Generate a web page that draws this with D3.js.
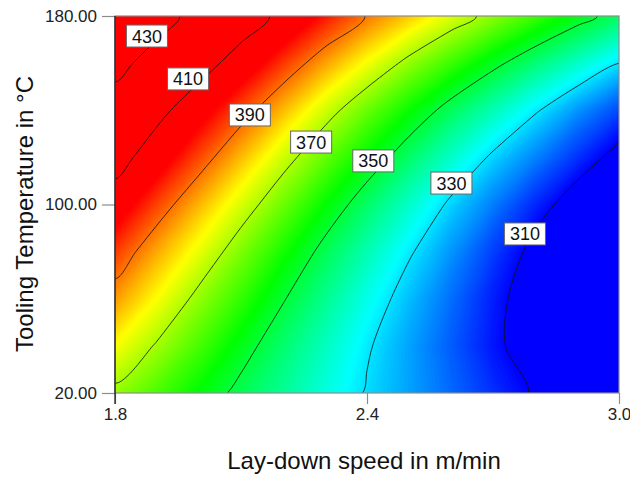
<!DOCTYPE html>
<html><head><meta charset="utf-8">
<script src="https://cdn.jsdelivr.net/npm/d3@7"></script>
<style>
body{margin:0;background:#fff;}
svg{display:block;font-family:Arial,"Liberation Sans",sans-serif;}
</style>
</head><body>
<svg id="chart" width="630" height="477"></svg>
<script>
// ---- data ----
const speeds = [1.8, 1.9, 2.0, 2.1, 2.2, 2.3, 2.4, 2.5, 2.6, 2.7, 2.8, 2.9, 3.0];
const temps = [20, 40, 60, 80, 100, 120, 140, 160, 180];
// response surface, one row per tooling temperature (20 → 180 °C), one column per speed
const resp20  = [368.1, 361.3, 354.5, 347.9, 341.7, 335.5, 329.4, 324.3, 319.2, 314.1, 309.3, 305.4, 301.5];
const resp40  = [377.2, 369.2, 361.1, 353.0, 345.5, 338.2, 330.9, 324.4, 318.1, 311.8, 305.9, 300.4, 295.2];
const resp60  = [386.3, 377.1, 367.9, 359.3, 350.6, 342.5, 334.4, 326.8, 319.7, 312.5, 305.7, 299.4, 293.4];
const resp80  = [395.0, 385.0, 375.5, 366.0, 356.8, 347.8, 339.4, 331.0, 323.2, 315.5, 307.9, 300.9, 294.2];
const resp100 = [404.6, 394.1, 384.0, 374.1, 364.5, 355.1, 346.0, 337.3, 328.7, 321.1, 313.4, 306.1, 299.3];
const resp120 = [414.5, 404.1, 393.7, 383.4, 373.2, 363.8, 354.7, 345.9, 337.2, 328.8, 321.6, 314.3, 307.2];
const resp140 = [424.1, 413.3, 403.4, 393.5, 383.5, 373.4, 364.2, 355.6, 347.1, 339.1, 331.0, 323.3, 316.3];
const resp160 = [434.1, 424.5, 414.8, 405.1, 395.2, 385.7, 376.7, 367.9, 360.1, 352.2, 344.7, 337.4, 330.0];
const resp180 = [445.0, 435.2, 425.7, 416.3, 407.1, 398.3, 389.6, 382.1, 374.5, 367.2, 360.3, 353.3, 346.5];
const response = [resp20, resp40, resp60, resp80, resp100, resp120, resp140, resp160, resp180];

const contourLevels = [310, 330, 350, 370, 390, 410, 430];
const labelValues = ["430", "410", "390", "370", "350", "330", "310"];
const labelSpeed  = [1.876, 1.974, 2.121, 2.267, 2.415, 2.601, 2.776];
const labelTemp   = [171.5, 153.3, 138.0, 126.5, 118.5, 109.1, 87.5];

const xTicks = [1.8, 2.4, 3.0];
const xTickLabels = ["1.8", "2.4", "3.0"];
const yTicks = [20, 100, 180];
const yTickLabels = ["20.00", "100.00", "180.00"];
const xTitle = "Lay-down speed in m/min";
const yTitle = "Tooling Temperature in °C";

// ---- layout / style ----
const L = 115, R = 619, T = 16, B = 393;
const colorStops = [310, 332.5, 355, 377.5, 400];
const colorRange = ["#0000ff", "#00ffff", "#00ff00", "#ffff00", "#ff0000"];

const svg = d3.select("#chart");
const xScale = d3.scaleLinear().domain([speeds[0], speeds[speeds.length - 1]]).range([L, R]);
const yScale = d3.scaleLinear().domain([temps[0], temps[temps.length - 1]]).range([B, T]);
const color = d3.scaleLinear().domain(colorStops).range(colorRange).clamp(true);

const nx = speeds.length, ny = temps.length;
const values = response.flat();
const rowsArr = response;
const colsArr = speeds.map((_, i) => response.map(r => r[i]));
const gxToS = d3.scaleLinear().domain([0.5, nx - 0.5]).range([speeds[0], speeds[nx - 1]]);
const gyToT = d3.scaleLinear().domain([0.5, ny - 0.5]).range([temps[0], temps[ny - 1]]);
const toPx = p => [xScale(gxToS(p[0])), yScale(gyToT(p[1]))];
const proj = d3.geoTransform({
  point(x, y) { const q = toPx([x, y]); this.stream.point(q[0], q[1]); }
});
const path = d3.geoPath(proj);

// locate a marching-squares crossing along a grid edge (cubic instead of linear)
function cubicAt(v, k, t) {
  const n = v.length;
  const at = i => i < 0 ? 2 * v[0] - v[1] : i >= n ? 2 * v[n - 1] - v[n - 2] : v[i];
  const p0 = at(k - 1), p1 = at(k), p2 = at(k + 1), p3 = at(k + 2);
  const m1 = (p2 - p0) / 2, m2 = (p3 - p1) / 2, t2 = t * t, t3 = t2 * t;
  return (2 * t3 - 3 * t2 + 1) * p1 + (t3 - 2 * t2 + t) * m1 + (-2 * t3 + 3 * t2) * p2 + (t3 - t2) * m2;
}
function edgeRoot(v, k, level) {
  let a = 0, b = 1;
  const sa = cubicAt(v, k, 0) >= level;
  for (let it = 0; it < 28; it++) {
    const m = (a + b) / 2;
    if ((cubicAt(v, k, m) >= level) === sa) a = m; else b = m;
  }
  return (a + b) / 2;
}
function refineRing(ring, level) {
  return ring.map(([x, y]) => {
    let X = x, Y = y;
    if (Number.isInteger(x) && x > 0 && x < nx) {
      const j = Math.min(ny - 1, Math.max(0, Math.floor(y)));
      X = x - 0.5 + edgeRoot(rowsArr[j], x - 1, level);
    }
    if (Number.isInteger(y) && y > 0 && y < ny) {
      const i = Math.min(nx - 1, Math.max(0, Math.floor(x)));
      Y = y - 0.5 + edgeRoot(colsArr[i], y - 1, level);
    }
    return [X, Y];
  });
}
const contourGen = d3.contours().size([nx, ny]).smooth(false);
const refined = levels => contourGen.thresholds(levels)(values).map(mp => ({
  type: "MultiPolygon", value: mp.value,
  coordinates: mp.coordinates.map(poly => poly.map(ring => refineRing(ring, mp.value)))
}));

svg.append("defs").append("clipPath").attr("id", "plotclip")
  .append("rect").attr("x", L).attr("y", T).attr("width", R - L).attr("height", B - T);

const plot = svg.append("g").attr("clip-path", "url(#plotclip)");

// filled gradient via many thin contour bands
const step = 0.5;
const fills = refined(d3.range(286, 452, step));
plot.append("rect").attr("x", L).attr("y", T).attr("width", R - L).attr("height", B - T)
  .attr("fill", color(286));
plot.append("g").selectAll("path").data(fills).join("path")
  .attr("d", path)
  .attr("fill", d => color(d.value + step / 2))
  .attr("stroke", d => color(d.value + step / 2))
  .attr("stroke-width", 0.6);

// contour lines
const lines = refined(contourLevels);
const inside = p => p[0] > 0 && p[0] < nx && p[1] > 0 && p[1] < ny;
const smoothOpen = d3.line().curve(d3.curveCatmullRom.alpha(0.5));
const smoothClosed = d3.line().curve(d3.curveCatmullRomClosed.alpha(0.5));
const linePaths = [];
lines.forEach(mp => mp.coordinates.forEach(poly => poly.forEach(ring0 => {
  const ring = ring0.slice(0, -1);
  const n = ring.length;
  const b = ring.findIndex(p => !inside(p));
  if (b < 0) { linePaths.push(smoothClosed(ring.map(toPx))); return; }
  let run = null;
  for (let k = 0; k <= n; k++) {
    const p = ring[(b + k) % n];
    if (inside(p)) {
      if (!run) run = [ring[(b + k - 1 + n) % n]];
      run.push(p);
    } else if (run) {
      run.push(p);
      linePaths.push(smoothOpen(run.map(toPx)));
      run = null;
    }
  }
})));
plot.append("g").selectAll("path").data(linePaths).join("path")
  .attr("d", d => d)
  .attr("fill", "none")
  .attr("stroke", "#111")
  .attr("stroke-width", 0.8);

// contour labels
const lab = svg.append("g").selectAll("g").data(labelValues).join("g")
  .attr("transform", (d, i) => `translate(${xScale(labelSpeed[i])},${yScale(labelTemp[i])})`);
lab.append("rect");
lab.append("text").text(d => d)
  .attr("text-anchor", "middle").attr("dy", "0.36em")
  .attr("font-size", 18).attr("fill", "#111");
lab.each(function () {
  const g = d3.select(this);
  const w = g.select("text").node().getComputedTextLength();
  g.select("rect").attr("x", -w / 2 - 5.5).attr("y", -11).attr("width", w + 11).attr("height", 22)
    .attr("fill", "#fff").attr("stroke", "#666").attr("stroke-width", 1);
});

// frame
const gray = "#8c8c8c";
svg.append("rect").attr("x", L).attr("y", T).attr("width", R - L).attr("height", B - T)
  .attr("fill", "none").attr("stroke", gray).attr("stroke-width", 1.2);

// axes
const xAxis = svg.append("g").attr("transform", `translate(0,${B})`)
  .call(d3.axisBottom(xScale).tickValues(xTicks).tickFormat((d, i) => xTickLabels[i]).tickSize(11).tickPadding(4));
const yAxis = svg.append("g").attr("transform", `translate(${L},0)`)
  .call(d3.axisLeft(yScale).tickValues(yTicks).tickFormat((d, i) => yTickLabels[i]).tickSize(13).tickPadding(5));
[xAxis, yAxis].forEach(a => {
  a.select(".domain").remove();
  a.selectAll("line").attr("stroke", gray).attr("stroke-width", 1.2);
  a.selectAll("text").attr("font-size", 17).attr("fill", "#222").attr("font-family", null);
});
// dark left axis line
svg.append("line").attr("x1", L).attr("x2", L).attr("y1", T).attr("y2", B + 11)
  .attr("stroke", "#111").attr("stroke-width", 1.2);

// titles
svg.append("text").attr("x", 364).attr("y", 469).attr("text-anchor", "middle")
  .attr("font-size", 24).attr("fill", "#111").text(xTitle);
svg.append("text").attr("transform", "translate(33,214) rotate(-90)").attr("text-anchor", "middle")
  .attr("font-size", 24).attr("fill", "#111").text(yTitle);
</script>
</body></html>
